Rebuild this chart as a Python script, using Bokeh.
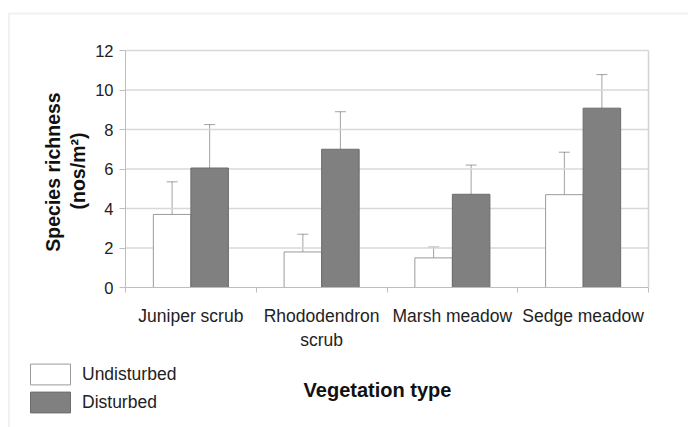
import math
from bokeh.plotting import figure
from bokeh.models import (ColumnDataSource, Range1d, LinearAxis, Grid,
                          FixedTicker, Whisker, TeeHead, Label, Legend, LegendItem, BoxAnnotation)
from bokeh.embed import file_html
from bokeh.resources import INLINE

# ---- data ----
categories = ["Juniper scrub", "Rhododendron\nscrub", "Marsh meadow", "Sedge meadow"]
undisturbed = [3.7, 1.8, 1.5, 4.7]
undisturbed_err = [1.65, 0.9, 0.55, 2.15]
disturbed = [6.05, 7.0, 4.72, 9.08]
disturbed_err = [2.2, 1.9, 1.48, 1.7]
y_ticks = [0, 2, 4, 6, 8, 10, 12]
series_names = ["Undisturbed", "Disturbed"]

# ---- layout constants (figure pixels) ----
W, H = 688, 427
PLOT_L, PLOT_R, PLOT_T, PLOT_B = 125, 648, 50, 287
Y_MAX = 12
BAR_W = 0.287
OFF = 0.1435
FONT = "Liberation Sans"

n = len(categories)
SX = (PLOT_R - PLOT_L) / n
SY = (PLOT_B - PLOT_T) / Y_MAX

def dx(px):
    return (px - PLOT_L) / SX

def dy(py):
    return (PLOT_B - py) / SY

centers = [i + 0.5 for i in range(n)]

src = ColumnDataSource(dict(
    xu=[c - OFF for c in centers],
    xd=[c + OFF for c in centers],
    u=undisturbed,
    u_lo=[v - e for v, e in zip(undisturbed, undisturbed_err)],
    u_hi=[v + e for v, e in zip(undisturbed, undisturbed_err)],
    d=disturbed,
    d_lo=[v - e for v, e in zip(disturbed, disturbed_err)],
    d_hi=[v + e for v, e in zip(disturbed, disturbed_err)],
))

p = figure(x_range=Range1d(dx(0), dx(W)), y_range=Range1d(dy(H), dy(0)),
           width=W, height=H, min_border=0,
           x_axis_location=None, y_axis_location=None,
           output_backend="svg", toolbar_location=None)
p.background_fill_color = "white"
p.border_fill_color = "white"
p.outline_line_color = None
p.renderers = [r for r in p.renderers if not isinstance(r, Grid)]
p.center = [r for r in p.center if not isinstance(r, Grid)]

# outer frame line
p.add_layout(BoxAnnotation(left=dx(8.5), top=dy(13), right=dx(W + 200), bottom=dy(H + 200),
                           fill_color=None, line_color="#cfcfcf", line_width=2,
                           level="underlay"))

# gridlines and plot-area right edge
grid_y = [t for t in y_ticks if t > 0]
p.segment(x0=[0] * len(grid_y), x1=[n] * len(grid_y), y0=grid_y, y1=grid_y,
          line_color="#d8d8d8", line_width=1.5)
p.segment(x0=[n], x1=[n], y0=[0], y1=[Y_MAX], line_color="#d4d4d4", line_width=1.5)

# y axis (positioned at x = 0 inside the frame)
ya = LinearAxis(fixed_location=0, bounds=(0, Y_MAX), ticker=FixedTicker(ticks=y_ticks),
                axis_line_color="#bdbdbd", major_tick_line_color="#bdbdbd",
                major_tick_out=6, major_tick_in=0, minor_tick_line_color=None,
                major_label_standoff=6, major_label_text_font=FONT,
                major_label_text_font_size="16.5px", major_label_text_color="#222222")
p.add_layout(ya, "left")

# category separator ticks
xb = LinearAxis(fixed_location=0, bounds=(0, n), ticker=FixedTicker(ticks=list(range(n + 1))),
                major_tick_in=0, major_tick_out=5,
                major_tick_line_color="#bdbdbd", axis_line_color="#bdbdbd",
                minor_tick_line_color=None,
                major_label_text_color=None, major_label_text_font_size="1px",
                major_label_standoff=0)
p.add_layout(xb, "below")

# category labels
xc = LinearAxis(fixed_location=0, ticker=FixedTicker(ticks=centers),
                major_label_overrides={c: name for c, name in zip(centers, categories)},
                axis_line_color=None, major_tick_line_color=None, major_tick_out=0,
                major_tick_in=0, minor_tick_line_color=None,
                major_label_standoff=18,
                major_label_text_font=FONT,
                major_label_text_font_size="17.5px",
                major_label_text_color="#222222")
p.add_layout(xc, "below")

# bars
r_u = p.vbar(x="xu", top="u", width=BAR_W, source=src,
             fill_color="white", line_color="#9a9a9a", line_width=1)
r_d = p.vbar(x="xd", top="d", width=BAR_W, source=src,
             fill_color="#808080", line_color="#6c6c6c", line_width=1)

# error bars
for base, lo, hi in [("xu", "u_lo", "u_hi"), ("xd", "d_lo", "d_hi")]:
    w = Whisker(source=src, base=base, lower=lo, upper=hi, dimension="height",
                line_color="#333333", line_alpha=0.45, line_width=1,
                upper_head=TeeHead(size=11, line_color="#333333", line_alpha=0.45, line_width=1),
                lower_head=TeeHead(size=11, line_color="#333333", line_alpha=0.45, line_width=1))
    p.add_layout(w)

# axis titles
p.add_layout(Label(x=dx(52), y=dy(171.5), text="Species richness", angle=math.pi / 2,
                   text_align="center", text_baseline="middle",
                   text_font=FONT, text_font_style="bold", text_font_size="19.5px",
                   text_color="#111111"))
p.add_layout(Label(x=dx(77), y=dy(170.5), text="(nos/m²)", angle=math.pi / 2,
                   text_align="center", text_baseline="middle",
                   text_font=FONT, text_font_style="bold", text_font_size="19.5px",
                   text_color="#111111"))
p.add_layout(Label(x=dx(377), y=dy(389), text="Vegetation type",
                   text_align="center", text_baseline="alphabetic",
                   text_font=FONT, text_font_style="bold", text_font_size="20px",
                   text_color="#111111"))

# legend (bar swatches are drawn with a 10% inset inside the glyph area)
legend = Legend(items=[LegendItem(label=series_names[0], renderers=[r_u]),
                       LegendItem(label=series_names[1], renderers=[r_d])],
                location=(25, 12), glyph_width=50, glyph_height=26, spacing=2,
                padding=0, margin=0, label_standoff=7, label_height=26,
                border_line_color=None, background_fill_alpha=0,
                label_text_font=FONT, label_text_font_size="17.5px",
                label_text_color="#222222")
p.add_layout(legend)

open("out.html", "w").write(file_html(p, INLINE))
